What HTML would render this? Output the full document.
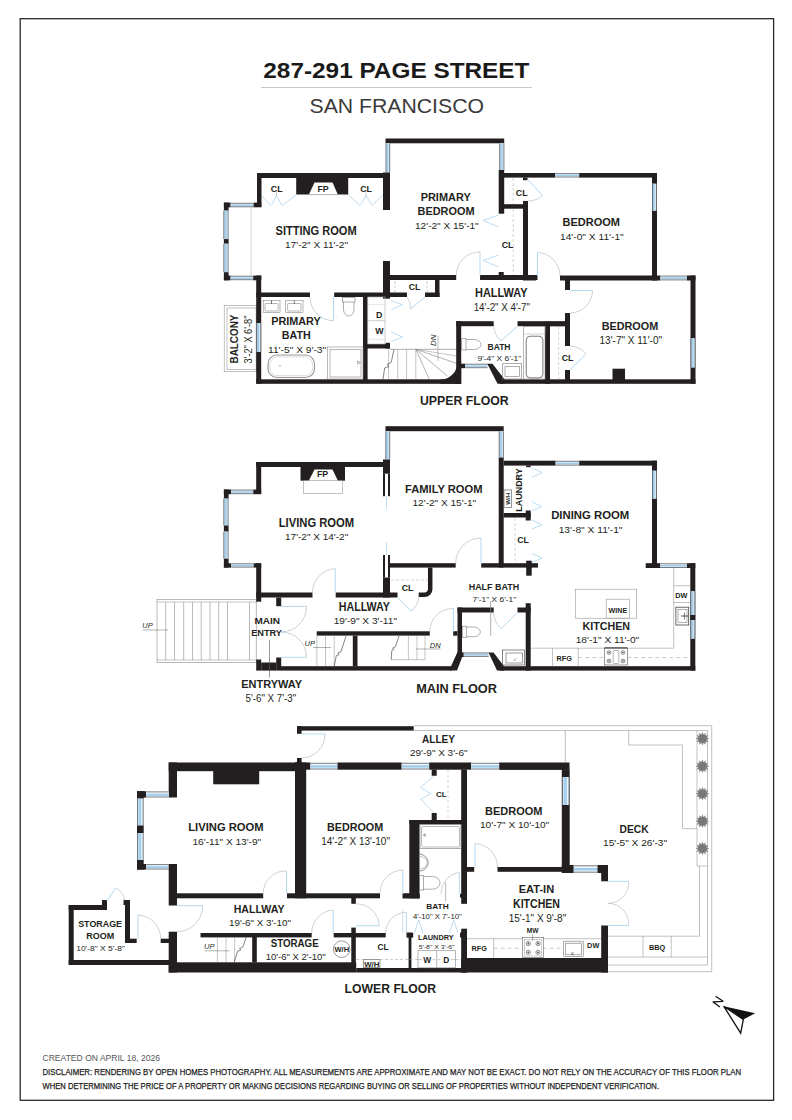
<!DOCTYPE html>
<html><head><meta charset="utf-8"><title>287-291 Page Street Floor Plan</title>
<style>
html,body{margin:0;padding:0;background:#fff;}
body{width:792px;height:1120px;overflow:hidden;font-family:"Liberation Sans",sans-serif;}
svg{display:block;font-family:"Liberation Sans",sans-serif;}
</style></head><body>
<svg width="792" height="1120" viewBox="0 0 792 1120">
<rect x="0" y="0" width="792" height="1120" fill="#ffffff"/>
<rect x="20.2" y="18.7" width="753.4" height="1081.6" fill="none" stroke="#2a2a2a" stroke-width="1.3" rx="0"/>
<text x="263.3" y="77.7" font-size="22.77" font-weight="bold" textLength="266.2" lengthAdjust="spacingAndGlyphs" fill="#1a1a1a">287-291 PAGE STREET</text>
<line x1="261.0" y1="87.5" x2="532.0" y2="87.5" stroke="#c8c8c8" stroke-width="1"/>
<text x="309.5" y="112.5" font-size="19.55" font-weight="normal" textLength="174.5" lengthAdjust="spacingAndGlyphs" fill="#3a3a3a">SAN FRANCISCO</text>
<line x1="251.0" y1="207.0" x2="251.0" y2="275.5" stroke="#b5b5b5" stroke-width="0.6"/>
<rect x="224.2" y="305.5" width="32.0" height="66.2" fill="none" stroke="#9a9a9a" stroke-width="0.6" rx="0"/>
<rect x="227.0" y="308.0" width="29.2" height="61.3" fill="none" stroke="#9a9a9a" stroke-width="0.6" rx="0"/>
<rect x="296.2" y="178.0" width="52.0" height="16.5" fill="#231f20"/>
<polygon points="314.5,182.5 332.5,182.5 338.0,195.0 308.7,195.0" fill="#fff" stroke="none" stroke-width="0"/>
<line x1="308.7" y1="194.6" x2="338.0" y2="194.6" stroke="#777" stroke-width="0.6"/>
<polyline points="261.5,195.5 271.0,205.5" fill="none" stroke="#b4d9f2" stroke-width="0.9"/>
<polyline points="271.5,205.0 276.5,195.5 281.5,205.0" fill="none" stroke="#b4d9f2" stroke-width="0.9"/>
<polyline points="282.0,205.5 296.0,195.0" fill="none" stroke="#b4d9f2" stroke-width="0.9"/>
<line x1="276.5" y1="190.0" x2="276.5" y2="196.0" stroke="#999" stroke-width="0.5"/>
<polyline points="348.5,195.0 360.0,205.5" fill="none" stroke="#b4d9f2" stroke-width="0.9"/>
<polyline points="360.5,205.0 366.0,195.5 371.5,205.0" fill="none" stroke="#b4d9f2" stroke-width="0.9"/>
<polyline points="372.0,205.5 383.0,195.0" fill="none" stroke="#b4d9f2" stroke-width="0.9"/>
<line x1="366.0" y1="190.0" x2="366.0" y2="196.0" stroke="#999" stroke-width="0.5"/>
<rect x="257.0" y="173.0" width="133.0" height="5.0" fill="#231f20"/>
<rect x="257.0" y="173.0" width="4.5" height="34.0" fill="#231f20"/>
<rect x="223.9" y="202.6" width="6.8" height="4.7" fill="#231f20"/>
<rect x="223.9" y="202.6" width="4.7" height="8.1" fill="#231f20"/>
<rect x="230.7" y="203.0" width="22.9" height="4.1" fill="#f1f8fd"/>
<rect x="230.7" y="204.5" width="22.9" height="1.5" fill="#9fcbea"/>
<line x1="230.7" y1="203.3" x2="253.6" y2="203.3" stroke="#3d454d" stroke-width="0.7"/>
<line x1="230.7" y1="206.8" x2="253.6" y2="206.8" stroke="#3d454d" stroke-width="0.7"/>
<rect x="253.6" y="202.6" width="7.7" height="4.7" fill="#231f20"/>
<rect x="223.5" y="210.7" width="4.9" height="28.4" fill="#eaf4fb"/>
<rect x="224.4" y="210.7" width="2.4" height="28.4" fill="#a6cfec"/>
<line x1="223.8" y1="210.7" x2="223.8" y2="239.1" stroke="#3d454d" stroke-width="0.7"/>
<line x1="228.1" y1="210.7" x2="228.1" y2="239.1" stroke="#3d454d" stroke-width="0.7"/>
<rect x="223.9" y="239.1" width="4.7" height="4.7" fill="#231f20"/>
<rect x="223.5" y="243.8" width="4.9" height="28.4" fill="#eaf4fb"/>
<rect x="224.4" y="243.8" width="2.4" height="28.4" fill="#a6cfec"/>
<line x1="223.8" y1="243.8" x2="223.8" y2="272.2" stroke="#3d454d" stroke-width="0.7"/>
<line x1="228.1" y1="243.8" x2="228.1" y2="272.2" stroke="#3d454d" stroke-width="0.7"/>
<rect x="223.9" y="272.2" width="4.7" height="8.1" fill="#231f20"/>
<rect x="223.9" y="275.6" width="6.8" height="4.7" fill="#231f20"/>
<rect x="230.7" y="275.9" width="22.5" height="4.1" fill="#f1f8fd"/>
<rect x="230.7" y="277.4" width="22.5" height="1.5" fill="#9fcbea"/>
<line x1="230.7" y1="276.2" x2="253.2" y2="276.2" stroke="#3d454d" stroke-width="0.7"/>
<line x1="230.7" y1="279.7" x2="253.2" y2="279.7" stroke="#3d454d" stroke-width="0.7"/>
<rect x="253.2" y="275.6" width="8.1" height="4.7" fill="#231f20"/>
<rect x="256.2" y="275.5" width="5.0" height="108.2" fill="#231f20"/>
<rect x="385.5" y="138.5" width="118.7" height="4.8" fill="#231f20"/>
<rect x="385.7" y="143.3" width="4.3" height="29.2" fill="#eaf4fb"/>
<rect x="386.5" y="143.3" width="2.1" height="29.2" fill="#a6cfec"/>
<line x1="386.0" y1="143.3" x2="386.0" y2="172.5" stroke="#3d454d" stroke-width="0.7"/>
<line x1="389.7" y1="143.3" x2="389.7" y2="172.5" stroke="#3d454d" stroke-width="0.7"/>
<rect x="383.0" y="172.5" width="7.0" height="37.5" fill="#231f20"/>
<rect x="383.0" y="261.0" width="7.0" height="37.7" fill="#231f20"/>
<rect x="499.4" y="143.3" width="4.8" height="26.7" fill="#eaf4fb"/>
<rect x="500.3" y="143.3" width="2.3" height="26.7" fill="#a6cfec"/>
<line x1="499.7" y1="143.3" x2="499.7" y2="170.0" stroke="#3d454d" stroke-width="0.7"/>
<line x1="503.9" y1="143.3" x2="503.9" y2="170.0" stroke="#3d454d" stroke-width="0.7"/>
<rect x="498.7" y="170.0" width="5.5" height="43.7" fill="#231f20"/>
<rect x="498.7" y="272.0" width="5.0" height="4.0" fill="#231f20"/>
<rect x="256.2" y="292.5" width="53.8" height="4.5" fill="#231f20"/>
<rect x="334.2" y="292.5" width="55.8" height="4.5" fill="#231f20"/>
<rect x="256.2" y="379.3" width="204.8" height="4.5" fill="#231f20"/>
<rect x="363.0" y="297.0" width="4.6" height="86.0" fill="#231f20"/>
<rect x="367.0" y="344.0" width="23.0" height="4.5" fill="#231f20"/>
<rect x="385.5" y="342.8" width="4.5" height="5.7" fill="#231f20"/>
<rect x="256.4" y="323.0" width="4.6" height="29.0" fill="#eaf4fb"/>
<rect x="257.2" y="323.0" width="2.2" height="29.0" fill="#a6cfec"/>
<line x1="256.7" y1="323.0" x2="256.7" y2="352.0" stroke="#3d454d" stroke-width="0.7"/>
<line x1="260.7" y1="323.0" x2="260.7" y2="352.0" stroke="#3d454d" stroke-width="0.7"/>
<rect x="390.0" y="275.0" width="66.2" height="5.0" fill="#231f20"/>
<rect x="480.0" y="275.0" width="57.5" height="5.0" fill="#231f20"/>
<rect x="390.0" y="292.5" width="17.0" height="4.5" fill="#231f20"/>
<rect x="425.0" y="292.5" width="14.5" height="4.5" fill="#231f20"/>
<rect x="435.0" y="280.0" width="4.5" height="17.0" fill="#231f20"/>
<line x1="395.0" y1="281.0" x2="395.0" y2="292.0" stroke="#aaa" stroke-width="0.6" stroke-dasharray="2.5 2"/>
<line x1="427.0" y1="281.0" x2="427.0" y2="292.0" stroke="#aaa" stroke-width="0.6" stroke-dasharray="2.5 2"/>
<line x1="425.0" y1="297.0" x2="410.5" y2="309.0" stroke="#b4d9f2" stroke-width="1.0"/>
<path d="M410.5,309.0 A18.8,18.8 0 0 0 407.0,297.0" fill="none" stroke="#9aa4ad" stroke-width="0.5" />
<polyline points="391.0,301.0 402.5,304.5 391.0,310.0" fill="none" stroke="#b4d9f2" stroke-width="0.9"/>
<polyline points="391.0,332.0 402.5,337.0 391.0,341.5" fill="none" stroke="#b4d9f2" stroke-width="0.9"/>
<rect x="367.8" y="297.0" width="17.2" height="47.0" fill="none" stroke="#aaa" stroke-width="0.6" rx="0"/>
<line x1="367.8" y1="320.7" x2="385.0" y2="320.7" stroke="#aaa" stroke-width="0.6"/>
<line x1="367.8" y1="304.6" x2="385.0" y2="304.6" stroke="#ccc" stroke-width="0.5"/>
<line x1="367.8" y1="339.3" x2="385.0" y2="339.3" stroke="#ccc" stroke-width="0.5"/>
<text x="379.3" y="317.7" font-size="8.80" font-weight="bold" text-anchor="middle" fill="#231f20">D</text>
<text x="379.3" y="334.4" font-size="8.80" font-weight="bold" text-anchor="middle" fill="#231f20">W</text>
<line x1="390.0" y1="349.3" x2="457.0" y2="349.3" stroke="#777" stroke-width="0.6"/>
<line x1="388.6" y1="349.3" x2="388.6" y2="379.5" stroke="#888" stroke-width="0.5"/>
<line x1="397.8" y1="349.3" x2="397.8" y2="379.5" stroke="#888" stroke-width="0.5"/>
<line x1="406.6" y1="349.3" x2="406.6" y2="379.5" stroke="#888" stroke-width="0.5"/>
<line x1="415.8" y1="349.3" x2="415.8" y2="379.5" stroke="#888" stroke-width="0.5"/>
<line x1="415.8" y1="349.3" x2="429.4" y2="379.6" stroke="#666" stroke-width="0.5"/>
<line x1="415.8" y1="349.3" x2="447.5" y2="376.1" stroke="#666" stroke-width="0.5"/>
<line x1="415.8" y1="349.3" x2="457.2" y2="363.6" stroke="#666" stroke-width="0.5"/>
<line x1="415.8" y1="349.3" x2="456.5" y2="356.0" stroke="#888" stroke-width="0.5"/>
<path d="M394,349.4 L391.2,362.4 L387,364.6 L389,366.5 L384.6,368 L383,379.5" fill="none" stroke="#333" stroke-width="0.6" />
<line x1="438.0" y1="335.8" x2="438.0" y2="360.8" stroke="#777" stroke-width="0.5"/>
<text x="433.6" y="343.2" font-size="8.00" font-weight="normal" font-style="italic" text-anchor="middle" transform="rotate(-90 433.6 340.3)" fill="#231f20">DN</text>
<rect x="456.2" y="321.2" width="37.5" height="5.0" fill="#231f20"/>
<rect x="517.5" y="321.2" width="47.5" height="5.0" fill="#231f20"/>
<rect x="456.2" y="321.2" width="5.0" height="62.6" fill="#231f20"/>
<path d="M457.6,361.5 A17.2,17.8 0 0 1 440.4,379.6 L440.4,383.8 L461.2,383.8 L461.2,361.5 Z" fill="#231f20" stroke="none" stroke-width="0" />
<rect x="461.0" y="363.7" width="4.0" height="4.5" fill="#231f20"/>
<rect x="465.0" y="363.9" width="22.5" height="4.1" fill="#f1f8fd"/>
<rect x="465.0" y="365.4" width="22.5" height="1.5" fill="#9fcbea"/>
<line x1="465.0" y1="364.2" x2="487.5" y2="364.2" stroke="#3d454d" stroke-width="0.7"/>
<line x1="465.0" y1="367.7" x2="487.5" y2="367.7" stroke="#3d454d" stroke-width="0.7"/>
<polygon points="487.3,363.7 492.5,363.7 504.5,379.3 504.5,383.8 497.5,383.8" fill="#231f20" stroke="none" stroke-width="0"/>
<rect x="500.0" y="379.3" width="195.5" height="4.5" fill="#231f20"/>
<rect x="545.0" y="326.0" width="5.0" height="57.8" fill="#231f20"/>
<rect x="523.3" y="326.5" width="21.7" height="52.5" fill="none" stroke="#888" stroke-width="0.6" rx="0"/>
<rect x="526.2" y="336.2" width="16.7" height="41.7" fill="none" stroke="#555" stroke-width="0.8" rx="4"/>
<rect x="523.3" y="326.5" width="21.7" height="7.5" fill="none" stroke="#aaa" stroke-width="0.5" rx="0"/>
<rect x="502.5" y="363.7" width="19.2" height="15.3" fill="none" stroke="#777" stroke-width="0.6" rx="0"/>
<rect x="505.0" y="366.5" width="14.5" height="10.0" fill="none" stroke="#777" stroke-width="0.6" rx="0"/>
<rect x="461.7" y="338.7" width="4.3" height="11.3" fill="none" stroke="#777" stroke-width="0.6" rx="0"/>
<path d="M466,339.5 L474,339.5 A7,5 0 0 1 474,349.5 L466,349.5" fill="none" stroke="#777" stroke-width="0.6" />
<line x1="517.5" y1="326.2" x2="501.0" y2="341.0" stroke="#b4d9f2" stroke-width="1.0"/>
<path d="M501.0,341.0 A22.2,22.2 0 0 1 493.7,326.2" fill="none" stroke="#9aa4ad" stroke-width="0.5" />
<rect x="263.2" y="300.5" width="16.8" height="12.0" fill="none" stroke="#888" stroke-width="0.6" rx="0"/>
<rect x="265.0" y="303.5" width="13.2" height="7.5" fill="none" stroke="#888" stroke-width="0.6" rx="1"/>
<rect x="285.7" y="300.5" width="17.3" height="12.0" fill="none" stroke="#888" stroke-width="0.6" rx="0"/>
<rect x="287.6" y="303.5" width="13.4" height="7.5" fill="none" stroke="#888" stroke-width="0.6" rx="1"/>
<line x1="271.5" y1="300.5" x2="271.5" y2="304.0" stroke="#555" stroke-width="0.8"/>
<line x1="294.3" y1="300.5" x2="294.3" y2="304.0" stroke="#555" stroke-width="0.8"/>
<line x1="333.5" y1="297.0" x2="333.5" y2="320.7" stroke="#b4d9f2" stroke-width="1.0"/>
<path d="M333.5,320.7 A23.7,23.7 0 0 1 310.0,297.0" fill="none" stroke="#9aa4ad" stroke-width="0.5" />
<rect x="342.5" y="297.3" width="12.5" height="4.7" fill="none" stroke="#777" stroke-width="0.6" rx="0"/>
<path d="M343.5,302 L343.5,310 A5.3,7 0 0 0 354,310 L354,302" fill="none" stroke="#777" stroke-width="0.6" />
<rect x="268.0" y="355.0" width="46.5" height="22.5" fill="none" stroke="#999" stroke-width="1.2" rx="9"/>
<rect x="269.8" y="356.8" width="42.9" height="18.9" fill="none" stroke="#bbb" stroke-width="0.5" rx="8"/>
<circle cx="280" cy="366" r="0.7" fill="#888"/>
<rect x="327.5" y="347.0" width="35.5" height="32.0" fill="none" stroke="#888" stroke-width="0.6" rx="0"/>
<rect x="330.0" y="349.3" width="31.0" height="27.7" fill="none" stroke="#888" stroke-width="0.6" rx="0"/>
<path d="M357.5,361 L360.5,362.5 L357.5,364 Z" fill="none" stroke="#666" stroke-width="0.5" />
<rect x="504.0" y="173.0" width="51.0" height="4.6" fill="#231f20"/>
<rect x="555.0" y="173.3" width="24.2" height="4.0" fill="#f1f8fd"/>
<rect x="555.0" y="174.7" width="24.2" height="1.4" fill="#9fcbea"/>
<line x1="555.0" y1="173.6" x2="579.2" y2="173.6" stroke="#3d454d" stroke-width="0.7"/>
<line x1="555.0" y1="177.0" x2="579.2" y2="177.0" stroke="#3d454d" stroke-width="0.7"/>
<rect x="579.2" y="173.0" width="77.8" height="4.6" fill="#231f20"/>
<rect x="523.0" y="177.5" width="4.5" height="2.7" fill="#231f20"/>
<rect x="504.0" y="204.2" width="23.5" height="4.5" fill="#231f20"/>
<rect x="523.0" y="201.0" width="5.0" height="75.0" fill="#231f20"/>
<line x1="513.2" y1="178.0" x2="513.2" y2="204.0" stroke="#bbb" stroke-width="0.6" stroke-dasharray="3 2"/>
<line x1="513.2" y1="209.0" x2="513.2" y2="275.0" stroke="#bbb" stroke-width="0.6" stroke-dasharray="3 2"/>
<line x1="528.0" y1="180.0" x2="542.5" y2="195.5" stroke="#b4d9f2" stroke-width="1.0"/>
<path d="M542.5,195.5 A21.2,21.2 0 0 1 528.0,201.0" fill="none" stroke="#9aa4ad" stroke-width="0.5" />
<polyline points="498.7,215.0 483.0,220.5 498.7,227.0" fill="none" stroke="#b4d9f2" stroke-width="0.9"/>
<polyline points="498.7,255.0 483.0,260.5 498.7,267.0" fill="none" stroke="#b4d9f2" stroke-width="0.9"/>
<rect x="652.0" y="173.0" width="5.0" height="107.5" fill="#231f20"/>
<rect x="652.2" y="183.7" width="4.6" height="27.0" fill="#eaf4fb"/>
<rect x="653.0" y="183.7" width="2.2" height="27.0" fill="#a6cfec"/>
<line x1="652.5" y1="183.7" x2="652.5" y2="210.7" stroke="#3d454d" stroke-width="0.7"/>
<line x1="656.5" y1="183.7" x2="656.5" y2="210.7" stroke="#3d454d" stroke-width="0.7"/>
<rect x="523.0" y="275.5" width="13.2" height="5.0" fill="#231f20"/>
<rect x="560.0" y="275.5" width="100.5" height="5.0" fill="#231f20"/>
<rect x="660.5" y="275.8" width="26.5" height="4.4" fill="#f1f8fd"/>
<rect x="660.5" y="277.4" width="26.5" height="1.6" fill="#9fcbea"/>
<line x1="660.5" y1="276.1" x2="687.0" y2="276.1" stroke="#3d454d" stroke-width="0.7"/>
<line x1="660.5" y1="279.9" x2="687.0" y2="279.9" stroke="#3d454d" stroke-width="0.7"/>
<rect x="687.0" y="275.5" width="8.5" height="5.0" fill="#231f20"/>
<line x1="537.5" y1="276.0" x2="537.5" y2="252.5" stroke="#b4d9f2" stroke-width="1.0"/>
<path d="M537.5,252.5 A23.5,23.5 0 0 1 560.0,276.0" fill="none" stroke="#9aa4ad" stroke-width="0.5" />
<line x1="480.0" y1="275.5" x2="480.0" y2="252.0" stroke="#b4d9f2" stroke-width="1.0"/>
<path d="M480.0,252.0 A23.5,23.5 0 0 0 456.2,275.5" fill="none" stroke="#9aa4ad" stroke-width="0.5" />
<rect x="690.5" y="275.5" width="5.0" height="108.3" fill="#231f20"/>
<rect x="690.7" y="338.2" width="4.6" height="29.3" fill="#eaf4fb"/>
<rect x="691.5" y="338.2" width="2.2" height="29.3" fill="#a6cfec"/>
<line x1="691.0" y1="338.2" x2="691.0" y2="367.5" stroke="#3d454d" stroke-width="0.7"/>
<line x1="695.0" y1="338.2" x2="695.0" y2="367.5" stroke="#3d454d" stroke-width="0.7"/>
<rect x="565.0" y="280.0" width="5.0" height="10.0" fill="#231f20"/>
<rect x="565.0" y="313.0" width="5.0" height="33.0" fill="#231f20"/>
<rect x="565.0" y="370.0" width="5.0" height="10.0" fill="#231f20"/>
<line x1="570.0" y1="290.5" x2="592.5" y2="290.5" stroke="#b4d9f2" stroke-width="1.0"/>
<path d="M592.5,290.5 A22.5,22.5 0 0 1 570.0,313.0" fill="none" stroke="#9aa4ad" stroke-width="0.5" />
<line x1="570.0" y1="370.0" x2="586.0" y2="353.7" stroke="#b4d9f2" stroke-width="1.0"/>
<path d="M586.0,353.7 A22.8,22.8 0 0 0 570.0,346.0" fill="none" stroke="#9aa4ad" stroke-width="0.5" />
<rect x="545.0" y="321.7" width="25.0" height="4.5" fill="#231f20"/>
<line x1="558.7" y1="327.0" x2="558.7" y2="379.0" stroke="#bbb" stroke-width="0.6" stroke-dasharray="3 2"/>
<rect x="612.5" y="368.7" width="12.5" height="11.3" fill="#231f20"/>
<text x="276.7" y="192.2" font-size="8.80" font-weight="bold" text-anchor="middle" fill="#231f20">CL</text>
<text x="323.0" y="192.2" font-size="8.80" font-weight="bold" text-anchor="middle" fill="#231f20">FP</text>
<text x="366.0" y="192.2" font-size="8.80" font-weight="bold" text-anchor="middle" fill="#231f20">CL</text>
<text x="275.5" y="234.5" font-size="11.87" font-weight="bold" textLength="81.2" lengthAdjust="spacingAndGlyphs" fill="#231f20">SITTING ROOM</text>
<text x="285.0" y="248.0" font-size="9.78" font-weight="normal" textLength="63.0" lengthAdjust="spacingAndGlyphs" fill="#231f20">17'-2" X 11'-2"</text>
<text x="271.2" y="325.2" font-size="11.45" font-weight="bold" textLength="49.5" lengthAdjust="spacingAndGlyphs" fill="#231f20">PRIMARY</text>
<text x="281.7" y="339.4" font-size="11.45" font-weight="bold" textLength="29.0" lengthAdjust="spacingAndGlyphs" fill="#231f20">BATH</text>
<text x="268.0" y="353.0" font-size="9.50" font-weight="normal" textLength="58.2" lengthAdjust="spacingAndGlyphs" fill="#231f20">11'-5" X 9'-3"</text>
<text x="234.4" y="343.1" font-size="11.50" font-weight="bold" text-anchor="middle" textLength="49.0" lengthAdjust="spacingAndGlyphs" transform="rotate(-90 234.4 339.0)" fill="#231f20">BALCONY</text>
<text x="248.7" y="343.1" font-size="10.00" font-weight="normal" text-anchor="middle" textLength="48.0" lengthAdjust="spacingAndGlyphs" transform="rotate(-90 248.7 339.5)" fill="#231f20">3'-2" X 6'-8"</text>
<text x="420.7" y="200.7" font-size="11.45" font-weight="bold" textLength="50.0" lengthAdjust="spacingAndGlyphs" fill="#231f20">PRIMARY</text>
<text x="417.5" y="215.0" font-size="11.59" font-weight="bold" textLength="57.0" lengthAdjust="spacingAndGlyphs" fill="#231f20">BEDROOM</text>
<text x="415.0" y="228.7" font-size="9.78" font-weight="normal" textLength="63.7" lengthAdjust="spacingAndGlyphs" fill="#231f20">12'-2" X 15'-1"</text>
<text x="521.7" y="195.7" font-size="8.80" font-weight="bold" text-anchor="middle" fill="#231f20">CL</text>
<text x="507.5" y="248.2" font-size="8.80" font-weight="bold" text-anchor="middle" fill="#231f20">CL</text>
<text x="414.5" y="289.7" font-size="8.80" font-weight="bold" text-anchor="middle" fill="#231f20">CL</text>
<text x="475.0" y="296.7" font-size="11.87" font-weight="bold" textLength="52.5" lengthAdjust="spacingAndGlyphs" fill="#231f20">HALLWAY</text>
<text x="473.7" y="310.5" font-size="10.20" font-weight="normal" textLength="56.3" lengthAdjust="spacingAndGlyphs" fill="#231f20">14'-2" X 4'-7"</text>
<text x="487.5" y="350.0" font-size="8.80" font-weight="bold" textLength="23.0" lengthAdjust="spacingAndGlyphs" fill="#231f20">BATH</text>
<text x="477.5" y="361.2" font-size="6.98" font-weight="normal" textLength="43.7" lengthAdjust="spacingAndGlyphs" fill="#231f20">9'-4" X 6'-1"</text>
<text x="562.5" y="225.9" font-size="11.03" font-weight="bold" textLength="57.5" lengthAdjust="spacingAndGlyphs" fill="#231f20">BEDROOM</text>
<text x="560.0" y="239.5" font-size="9.78" font-weight="normal" textLength="63.7" lengthAdjust="spacingAndGlyphs" fill="#231f20">14'-0" X 11'-1"</text>
<text x="601.7" y="330.0" font-size="11.59" font-weight="bold" textLength="56.5" lengthAdjust="spacingAndGlyphs" fill="#231f20">BEDROOM</text>
<text x="599.5" y="343.7" font-size="10.47" font-weight="normal" textLength="62.5" lengthAdjust="spacingAndGlyphs" fill="#231f20">13'-7" X 11'-0"</text>
<text x="567.5" y="361.2" font-size="8.80" font-weight="bold" text-anchor="middle" fill="#231f20">CL</text>
<text x="420.0" y="405.0" font-size="12.29" font-weight="bold" textLength="88.7" lengthAdjust="spacingAndGlyphs" fill="#231f20">UPPER FLOOR</text>
<rect x="157.0" y="599.5" width="99.2" height="63.0" fill="none" stroke="#8a8a8a" stroke-width="0.6" rx="0"/>
<line x1="157.0" y1="602.0" x2="256.2" y2="602.0" stroke="#8a8a8a" stroke-width="0.5"/>
<line x1="157.0" y1="660.0" x2="256.2" y2="660.0" stroke="#8a8a8a" stroke-width="0.5"/>
<line x1="165.7" y1="602.0" x2="165.7" y2="660.0" stroke="#777" stroke-width="0.5"/>
<line x1="174.5" y1="602.0" x2="174.5" y2="660.0" stroke="#777" stroke-width="0.5"/>
<line x1="183.7" y1="602.0" x2="183.7" y2="660.0" stroke="#777" stroke-width="0.5"/>
<line x1="192.5" y1="602.0" x2="192.5" y2="660.0" stroke="#777" stroke-width="0.5"/>
<line x1="201.2" y1="602.0" x2="201.2" y2="660.0" stroke="#777" stroke-width="0.5"/>
<line x1="210.0" y1="602.0" x2="210.0" y2="660.0" stroke="#777" stroke-width="0.5"/>
<line x1="218.7" y1="602.0" x2="218.7" y2="660.0" stroke="#777" stroke-width="0.5"/>
<line x1="227.5" y1="602.0" x2="227.5" y2="660.0" stroke="#777" stroke-width="0.5"/>
<line x1="249.5" y1="602.0" x2="249.5" y2="660.0" stroke="#777" stroke-width="0.5"/>
<line x1="142.5" y1="630.0" x2="168.0" y2="630.0" stroke="#666" stroke-width="0.5"/>
<text x="147.5" y="628.4" font-size="7.50" font-weight="normal" font-style="italic" text-anchor="middle" fill="#231f20">UP</text>
<rect x="300.5" y="467.0" width="44.5" height="13.7" fill="#231f20"/>
<polygon points="314.5,469.5 332.5,469.5 338.0,481.0 308.7,481.0" fill="#fff" stroke="none" stroke-width="0"/>
<rect x="303.7" y="480.7" width="38.8" height="13.0" fill="none" stroke="#999" stroke-width="0.6" rx="0"/>
<rect x="256.2" y="462.0" width="133.8" height="5.0" fill="#231f20"/>
<rect x="256.2" y="462.0" width="5.0" height="32.0" fill="#231f20"/>
<rect x="223.9" y="489.5" width="7.1" height="4.7" fill="#231f20"/>
<rect x="223.9" y="489.5" width="4.7" height="9.2" fill="#231f20"/>
<rect x="231.0" y="489.8" width="22.3" height="4.2" fill="#f1f8fd"/>
<rect x="231.0" y="491.3" width="22.3" height="1.5" fill="#9fcbea"/>
<line x1="231.0" y1="490.1" x2="253.3" y2="490.1" stroke="#3d454d" stroke-width="0.7"/>
<line x1="231.0" y1="493.7" x2="253.3" y2="493.7" stroke="#3d454d" stroke-width="0.7"/>
<rect x="253.3" y="489.5" width="7.9" height="4.7" fill="#231f20"/>
<rect x="223.5" y="498.7" width="4.9" height="26.8" fill="#eaf4fb"/>
<rect x="224.4" y="498.7" width="2.4" height="26.8" fill="#a6cfec"/>
<line x1="223.8" y1="498.7" x2="223.8" y2="525.5" stroke="#3d454d" stroke-width="0.7"/>
<line x1="228.1" y1="498.7" x2="228.1" y2="525.5" stroke="#3d454d" stroke-width="0.7"/>
<rect x="223.9" y="525.5" width="4.7" height="6.2" fill="#231f20"/>
<rect x="223.5" y="531.7" width="4.9" height="27.0" fill="#eaf4fb"/>
<rect x="224.4" y="531.7" width="2.4" height="27.0" fill="#a6cfec"/>
<line x1="223.8" y1="531.7" x2="223.8" y2="558.7" stroke="#3d454d" stroke-width="0.7"/>
<line x1="228.1" y1="531.7" x2="228.1" y2="558.7" stroke="#3d454d" stroke-width="0.7"/>
<rect x="223.9" y="558.7" width="4.7" height="8.9" fill="#231f20"/>
<rect x="223.9" y="563.3" width="7.1" height="4.3" fill="#231f20"/>
<rect x="231.0" y="563.5" width="22.7" height="3.9" fill="#f1f8fd"/>
<rect x="231.0" y="564.9" width="22.7" height="1.4" fill="#9fcbea"/>
<line x1="231.0" y1="563.8" x2="253.7" y2="563.8" stroke="#3d454d" stroke-width="0.7"/>
<line x1="231.0" y1="567.1" x2="253.7" y2="567.1" stroke="#3d454d" stroke-width="0.7"/>
<rect x="253.7" y="563.3" width="7.5" height="4.3" fill="#231f20"/>
<rect x="256.2" y="563.3" width="5.0" height="38.4" fill="#231f20"/>
<rect x="256.2" y="592.5" width="56.3" height="5.0" fill="#231f20"/>
<rect x="335.7" y="592.5" width="61.8" height="5.0" fill="#231f20"/>
<rect x="276.2" y="597.5" width="5.0" height="8.7" fill="#231f20"/>
<rect x="256.2" y="659.5" width="5.0" height="11.1" fill="#231f20"/>
<rect x="261.2" y="662.5" width="15.0" height="8.1" fill="#231f20"/>
<rect x="276.2" y="657.5" width="5.0" height="13.1" fill="#231f20"/>
<rect x="281.0" y="666.2" width="170.5" height="4.4" fill="#231f20"/>
<line x1="281.2" y1="606.4" x2="306.5" y2="606.4" stroke="#b4d9f2" stroke-width="1.0"/>
<path d="M306.5,606.4 A25.3,25.3 0 0 1 281.5,632.0" fill="none" stroke="#9aa4ad" stroke-width="0.5" />
<line x1="281.2" y1="657.3" x2="306.5" y2="657.3" stroke="#b4d9f2" stroke-width="1.0"/>
<path d="M306.5,657.3 A25.3,25.3 0 0 0 281.5,632.0" fill="none" stroke="#9aa4ad" stroke-width="0.5" />
<line x1="335.3" y1="592.5" x2="335.3" y2="568.7" stroke="#b4d9f2" stroke-width="1.0"/>
<path d="M335.3,568.7 A23.8,23.8 0 0 0 312.5,592.5" fill="none" stroke="#9aa4ad" stroke-width="0.5" />
<line x1="269.5" y1="640.0" x2="269.5" y2="677.5" stroke="#555" stroke-width="0.6"/>
<rect x="385.5" y="426.2" width="118.2" height="5.0" fill="#231f20"/>
<rect x="385.5" y="431.2" width="4.5" height="28.3" fill="#eaf4fb"/>
<rect x="386.3" y="431.2" width="2.2" height="28.3" fill="#a6cfec"/>
<line x1="385.8" y1="431.2" x2="385.8" y2="459.5" stroke="#3d454d" stroke-width="0.7"/>
<line x1="389.7" y1="431.2" x2="389.7" y2="459.5" stroke="#3d454d" stroke-width="0.7"/>
<rect x="383.0" y="459.5" width="7.0" height="14.2" fill="#231f20"/>
<rect x="383.0" y="473.7" width="2.0" height="22.5" fill="#231f20"/>
<rect x="388.0" y="473.7" width="2.0" height="22.5" fill="#231f20"/>
<line x1="386.5" y1="496.2" x2="386.5" y2="508.7" stroke="#b4d9f2" stroke-width="0.9"/>
<line x1="386.5" y1="542.5" x2="386.5" y2="555.0" stroke="#b4d9f2" stroke-width="0.9"/>
<rect x="383.0" y="555.0" width="2.0" height="22.5" fill="#231f20"/>
<rect x="388.0" y="555.0" width="2.0" height="22.5" fill="#231f20"/>
<rect x="383.0" y="577.5" width="7.0" height="20.0" fill="#231f20"/>
<rect x="498.9" y="431.2" width="4.8" height="26.3" fill="#eaf4fb"/>
<rect x="499.8" y="431.2" width="2.3" height="26.3" fill="#a6cfec"/>
<line x1="499.2" y1="431.2" x2="499.2" y2="457.5" stroke="#3d454d" stroke-width="0.7"/>
<line x1="503.4" y1="431.2" x2="503.4" y2="457.5" stroke="#3d454d" stroke-width="0.7"/>
<rect x="498.7" y="457.5" width="5.0" height="110.0" fill="#231f20"/>
<rect x="503.7" y="460.7" width="52.0" height="4.9" fill="#231f20"/>
<rect x="555.7" y="461.0" width="23.5" height="4.4" fill="#f1f8fd"/>
<rect x="555.7" y="462.6" width="23.5" height="1.6" fill="#9fcbea"/>
<line x1="555.7" y1="461.3" x2="579.2" y2="461.3" stroke="#3d454d" stroke-width="0.7"/>
<line x1="555.7" y1="465.1" x2="579.2" y2="465.1" stroke="#3d454d" stroke-width="0.7"/>
<rect x="579.2" y="460.7" width="77.8" height="4.9" fill="#231f20"/>
<rect x="526.2" y="465.5" width="4.5" height="1.7" fill="#231f20"/>
<rect x="652.0" y="460.7" width="5.0" height="107.3" fill="#231f20"/>
<rect x="652.2" y="470.7" width="4.6" height="28.0" fill="#eaf4fb"/>
<rect x="653.0" y="470.7" width="2.2" height="28.0" fill="#a6cfec"/>
<line x1="652.5" y1="470.7" x2="652.5" y2="498.7" stroke="#3d454d" stroke-width="0.7"/>
<line x1="656.5" y1="470.7" x2="656.5" y2="498.7" stroke="#3d454d" stroke-width="0.7"/>
<rect x="645.7" y="563.2" width="14.3" height="4.8" fill="#231f20"/>
<rect x="660.0" y="563.5" width="27.0" height="4.3" fill="#f1f8fd"/>
<rect x="660.0" y="565.0" width="27.0" height="1.5" fill="#9fcbea"/>
<line x1="660.0" y1="563.8" x2="687.0" y2="563.8" stroke="#3d454d" stroke-width="0.7"/>
<line x1="660.0" y1="567.5" x2="687.0" y2="567.5" stroke="#3d454d" stroke-width="0.7"/>
<rect x="687.0" y="563.2" width="8.3" height="4.8" fill="#231f20"/>
<rect x="690.3" y="563.2" width="5.0" height="107.4" fill="#231f20"/>
<rect x="690.5" y="591.2" width="4.6" height="23.8" fill="#eaf4fb"/>
<rect x="691.3" y="591.2" width="2.2" height="23.8" fill="#a6cfec"/>
<line x1="690.8" y1="591.2" x2="690.8" y2="615.0" stroke="#3d454d" stroke-width="0.7"/>
<line x1="694.8" y1="591.2" x2="694.8" y2="615.0" stroke="#3d454d" stroke-width="0.7"/>
<rect x="690.3" y="615.0" width="5.0" height="5.0" fill="#231f20"/>
<rect x="690.5" y="620.0" width="4.6" height="18.7" fill="#eaf4fb"/>
<rect x="691.3" y="620.0" width="2.2" height="18.7" fill="#a6cfec"/>
<line x1="690.8" y1="620.0" x2="690.8" y2="638.7" stroke="#3d454d" stroke-width="0.7"/>
<line x1="694.8" y1="620.0" x2="694.8" y2="638.7" stroke="#3d454d" stroke-width="0.7"/>
<rect x="499.5" y="666.2" width="195.8" height="4.4" fill="#231f20"/>
<rect x="503.7" y="513.0" width="27.0" height="4.5" fill="#231f20"/>
<rect x="525.7" y="510.5" width="5.0" height="10.0" fill="#231f20"/>
<rect x="504.0" y="490.0" width="7.7" height="17.5" fill="none" stroke="#555" stroke-width="0.6" rx="0"/>
<text x="508.0" y="500.8" font-size="5.60" font-weight="bold" text-anchor="middle" textLength="12.0" lengthAdjust="spacingAndGlyphs" transform="rotate(-90 508.0 498.8)" fill="#231f20">W/H</text>
<text x="519.3" y="493.1" font-size="8.60" font-weight="bold" text-anchor="middle" textLength="43.5" lengthAdjust="spacingAndGlyphs" transform="rotate(-90 519.3 490.0)" fill="#231f20">LAUNDRY</text>
<line x1="515.0" y1="518.0" x2="515.0" y2="563.0" stroke="#bbb" stroke-width="0.6" stroke-dasharray="3 2"/>
<text x="523.0" y="543.2" font-size="8.80" font-weight="bold" text-anchor="middle" fill="#231f20">CL</text>
<polyline points="532.0,468.0 542.0,472.5 532.0,477.5" fill="none" stroke="#b4d9f2" stroke-width="0.9"/>
<polyline points="532.0,502.0 542.0,506.5 532.0,511.0" fill="none" stroke="#b4d9f2" stroke-width="0.9"/>
<polyline points="532.0,520.0 542.0,524.8 532.0,529.0" fill="none" stroke="#b4d9f2" stroke-width="0.9"/>
<polyline points="532.0,553.5 542.0,558.0 532.0,562.5" fill="none" stroke="#b4d9f2" stroke-width="0.9"/>
<rect x="390.0" y="563.2" width="65.7" height="4.4" fill="#231f20"/>
<rect x="481.2" y="563.2" width="56.8" height="4.4" fill="#231f20"/>
<rect x="526.2" y="560.7" width="5.5" height="15.0" fill="#231f20"/>
<line x1="481.0" y1="563.2" x2="481.0" y2="538.0" stroke="#b4d9f2" stroke-width="1.0"/>
<path d="M481.0,538.0 A25.2,25.2 0 0 0 455.7,563.2" fill="none" stroke="#9aa4ad" stroke-width="0.5" />
<path d="M430.2,567.6 L430.2,589 A5.7,5.7 0 0 1 424.5,594.8 L418.7,594.8" fill="none" stroke="#231f20" stroke-width="4.5" />
<line x1="391.0" y1="580.0" x2="427.5" y2="580.0" stroke="#bbb" stroke-width="0.6" stroke-dasharray="3 2"/>
<text x="407.5" y="590.7" font-size="8.80" font-weight="bold" text-anchor="middle" fill="#231f20">CL</text>
<line x1="397.7" y1="597.3" x2="411.0" y2="611.0" stroke="#b4d9f2" stroke-width="1.0"/>
<path d="M411.0,611.0 A19.1,19.1 0 0 0 418.7,597.3" fill="none" stroke="#9aa4ad" stroke-width="0.5" />
<rect x="457.5" y="607.5" width="36.2" height="5.0" fill="#231f20"/>
<rect x="517.5" y="607.5" width="13.2" height="5.0" fill="#231f20"/>
<rect x="457.5" y="607.5" width="4.5" height="45.5" fill="#231f20"/>
<rect x="453.2" y="631.2" width="4.3" height="4.5" fill="#231f20"/>
<rect x="525.7" y="603.2" width="5.0" height="67.4" fill="#231f20"/>
<line x1="490.7" y1="601.0" x2="490.7" y2="635.7" stroke="#8a8a8a" stroke-width="0.7"/>
<line x1="517.5" y1="612.5" x2="501.2" y2="628.7" stroke="#b4d9f2" stroke-width="1.0"/>
<path d="M501.2,628.7 A23.0,23.0 0 0 1 493.7,612.5" fill="none" stroke="#9aa4ad" stroke-width="0.5" />
<rect x="462.3" y="626.2" width="3.9" height="11.3" fill="none" stroke="#777" stroke-width="0.6" rx="0"/>
<path d="M466.2,627 L473.5,627 A6.8,4.8 0 0 1 473.5,636.7 L466.2,636.7" fill="none" stroke="#777" stroke-width="0.6" />
<rect x="462.0" y="652.5" width="2.0" height="4.5" fill="#231f20"/>
<rect x="463.7" y="652.7" width="25.0" height="4.0" fill="#f1f8fd"/>
<rect x="463.7" y="654.1" width="25.0" height="1.4" fill="#9fcbea"/>
<line x1="463.7" y1="653.0" x2="488.7" y2="653.0" stroke="#3d454d" stroke-width="0.7"/>
<line x1="463.7" y1="656.4" x2="488.7" y2="656.4" stroke="#3d454d" stroke-width="0.7"/>
<polygon points="457.5,652.0 462.2,652.0 462.2,657.0 457.0,670.6 449.5,670.6 451.0,666.2" fill="#231f20" stroke="none" stroke-width="0"/>
<polygon points="488.5,652.5 493.5,652.5 504.0,666.2 504.0,670.6 497.0,670.6" fill="#231f20" stroke="none" stroke-width="0"/>
<rect x="502.5" y="650.0" width="22.0" height="15.0" fill="none" stroke="#555" stroke-width="0.7" rx="0"/>
<rect x="506.0" y="653.0" width="16.5" height="10.0" fill="none" stroke="#555" stroke-width="0.6" rx="0"/>
<line x1="514.0" y1="661.0" x2="516.0" y2="658.5" stroke="#555" stroke-width="0.6"/>
<rect x="316.7" y="631.3" width="113.1" height="4.3" fill="#231f20"/>
<rect x="352.8" y="635.6" width="4.7" height="30.9" fill="#231f20"/>
<line x1="316.9" y1="635.6" x2="316.9" y2="666.2" stroke="#888" stroke-width="0.5"/>
<line x1="325.5" y1="635.6" x2="325.5" y2="666.2" stroke="#888" stroke-width="0.5"/>
<line x1="334.2" y1="635.6" x2="334.2" y2="666.2" stroke="#888" stroke-width="0.5"/>
<path d="M346,636 L340.8,652 L337.8,653 L339.2,654.6 L336.3,655.6 L334.3,666" fill="none" stroke="#333" stroke-width="0.6" />
<line x1="313.0" y1="647.5" x2="331.0" y2="647.5" stroke="#666" stroke-width="0.5"/>
<text x="309.8" y="645.7" font-size="7.50" font-weight="normal" font-style="italic" text-anchor="middle" fill="#231f20">UP</text>
<line x1="408.4" y1="635.6" x2="408.4" y2="659.7" stroke="#888" stroke-width="0.5"/>
<line x1="417.0" y1="635.6" x2="417.0" y2="659.7" stroke="#888" stroke-width="0.5"/>
<line x1="425.0" y1="635.6" x2="425.0" y2="659.7" stroke="#888" stroke-width="0.5"/>
<line x1="391.0" y1="659.7" x2="425.0" y2="659.7" stroke="#888" stroke-width="0.5"/>
<path d="M399,636 L395.5,646.8 L392.6,648 L394,649.5 L391.8,650.5 L391.2,659.7" fill="none" stroke="#333" stroke-width="0.6" />
<line x1="415.9" y1="649.0" x2="440.5" y2="649.0" stroke="#666" stroke-width="0.5"/>
<text x="435.2" y="647.9" font-size="7.50" font-weight="normal" font-style="italic" text-anchor="middle" fill="#231f20">DN</text>
<line x1="453.4" y1="631.5" x2="453.4" y2="608.5" stroke="#b4d9f2" stroke-width="1.0"/>
<path d="M453.4,608.5 A23.0,23.0 0 0 0 429.8,631.5" fill="none" stroke="#9aa4ad" stroke-width="0.5" />
<line x1="673.7" y1="568.0" x2="673.7" y2="648.2" stroke="#999" stroke-width="0.6"/>
<line x1="530.7" y1="648.2" x2="673.7" y2="648.2" stroke="#999" stroke-width="0.6"/>
<line x1="673.7" y1="585.7" x2="690.3" y2="585.7" stroke="#999" stroke-width="0.6"/>
<line x1="673.7" y1="602.5" x2="690.3" y2="602.5" stroke="#999" stroke-width="0.6"/>
<text x="681.3" y="597.6" font-size="7.30" font-weight="bold" text-anchor="middle" fill="#231f20">DW</text>
<rect x="675.9" y="607.2" width="12.8" height="17.8" fill="none" stroke="#444" stroke-width="0.8" rx="0"/>
<rect x="678.0" y="609.5" width="9.0" height="13.0" fill="none" stroke="#666" stroke-width="0.5" rx="0"/>
<line x1="681.0" y1="616.0" x2="688.5" y2="616.0" stroke="#444" stroke-width="0.9"/>
<line x1="684.5" y1="612.5" x2="684.5" y2="619.5" stroke="#444" stroke-width="0.7"/>
<rect x="575.5" y="589.2" width="61.2" height="29.0" fill="none" stroke="#999" stroke-width="0.6" rx="0"/>
<rect x="606.2" y="599.2" width="23.3" height="19.0" fill="none" stroke="#999" stroke-width="0.6" rx="0"/>
<text x="617.8" y="612.6" font-size="7.20" font-weight="bold" text-anchor="middle" fill="#231f20">WINE</text>
<line x1="552.5" y1="648.2" x2="552.5" y2="666.2" stroke="#999" stroke-width="0.6"/>
<line x1="578.2" y1="648.2" x2="578.2" y2="666.2" stroke="#999" stroke-width="0.6"/>
<text x="564.2" y="660.8" font-size="7.30" font-weight="bold" text-anchor="middle" fill="#231f20">RFG</text>
<line x1="578.2" y1="657.5" x2="688.0" y2="657.5" stroke="#aaa" stroke-width="0.6" stroke-dasharray="4 3"/>
<rect x="604.5" y="648.2" width="23.0" height="16.8" fill="#fff" stroke="#555" stroke-width="0.6" rx="0"/>
<line x1="604.5" y1="647.8" x2="627.5" y2="647.8" stroke="#333" stroke-width="0.9"/>
<rect x="613.2" y="650.5" width="5.6" height="13.0" fill="none" stroke="#666" stroke-width="0.5" rx="1.2"/>
<circle cx="609" cy="652.5" r="1.9" fill="none" stroke="#444" stroke-width="0.6"/><circle cx="609" cy="652.5" r="0.8" fill="#444"/>
<circle cx="623" cy="652.5" r="1.9" fill="none" stroke="#444" stroke-width="0.6"/><circle cx="623" cy="652.5" r="0.8" fill="#444"/>
<circle cx="609" cy="661" r="1.9" fill="none" stroke="#444" stroke-width="0.6"/><circle cx="609" cy="661" r="0.8" fill="#444"/>
<circle cx="623" cy="661" r="1.9" fill="none" stroke="#444" stroke-width="0.6"/><circle cx="623" cy="661" r="0.8" fill="#444"/>
<text x="322.5" y="477.2" font-size="8.80" font-weight="bold" text-anchor="middle" fill="#231f20">FP</text>
<text x="278.7" y="526.7" font-size="11.87" font-weight="bold" textLength="75.5" lengthAdjust="spacingAndGlyphs" fill="#231f20">LIVING ROOM</text>
<text x="285.0" y="539.5" font-size="9.78" font-weight="normal" textLength="63.2" lengthAdjust="spacingAndGlyphs" fill="#231f20">17'-2" X 14'-2"</text>
<text x="254.5" y="623.9" font-size="9.64" font-weight="bold" textLength="25.5" lengthAdjust="spacingAndGlyphs" fill="#231f20">MAIN</text>
<text x="251.2" y="636.2" font-size="9.78" font-weight="bold" textLength="30.8" lengthAdjust="spacingAndGlyphs" fill="#231f20">ENTRY</text>
<text x="338.7" y="610.5" font-size="11.87" font-weight="bold" textLength="51.3" lengthAdjust="spacingAndGlyphs" fill="#231f20">HALLWAY</text>
<text x="333.7" y="623.7" font-size="9.78" font-weight="normal" textLength="63.3" lengthAdjust="spacingAndGlyphs" fill="#231f20">19'-9" X 3'-11"</text>
<text x="241.2" y="688.2" font-size="11.45" font-weight="bold" textLength="60.8" lengthAdjust="spacingAndGlyphs" fill="#231f20">ENTRYWAY</text>
<text x="245.5" y="701.7" font-size="10.47" font-weight="normal" textLength="50.7" lengthAdjust="spacingAndGlyphs" fill="#231f20">5'-6" X 7'-3"</text>
<text x="405.0" y="492.5" font-size="11.59" font-weight="bold" textLength="77.5" lengthAdjust="spacingAndGlyphs" fill="#231f20">FAMILY ROOM</text>
<text x="412.5" y="505.7" font-size="9.78" font-weight="normal" textLength="63.7" lengthAdjust="spacingAndGlyphs" fill="#231f20">12'-2" X 15'-1"</text>
<text x="551.2" y="518.9" font-size="11.45" font-weight="bold" textLength="78.0" lengthAdjust="spacingAndGlyphs" fill="#231f20">DINING ROOM</text>
<text x="558.7" y="532.5" font-size="9.50" font-weight="normal" textLength="63.8" lengthAdjust="spacingAndGlyphs" fill="#231f20">13'-8" X 11'-1"</text>
<text x="468.7" y="590.2" font-size="9.08" font-weight="bold" textLength="50.5" lengthAdjust="spacingAndGlyphs" fill="#231f20">HALF BATH</text>
<text x="472.5" y="601.7" font-size="7.68" font-weight="normal" textLength="43.7" lengthAdjust="spacingAndGlyphs" fill="#231f20">7'-1" X 6'-1"</text>
<text x="582.5" y="630.2" font-size="11.45" font-weight="bold" textLength="47.5" lengthAdjust="spacingAndGlyphs" fill="#231f20">KITCHEN</text>
<text x="575.7" y="643.2" font-size="9.78" font-weight="normal" textLength="63.5" lengthAdjust="spacingAndGlyphs" fill="#231f20">18'-1" X 11'-0"</text>
<text x="416.2" y="693.0" font-size="12.57" font-weight="bold" textLength="80.8" lengthAdjust="spacingAndGlyphs" fill="#231f20">MAIN FLOOR</text>
<line x1="413.7" y1="725.7" x2="711.7" y2="725.7" stroke="#999" stroke-width="0.6"/>
<line x1="711.7" y1="725.7" x2="711.7" y2="971.7" stroke="#999" stroke-width="0.6"/>
<line x1="413.7" y1="730.5" x2="707.5" y2="730.5" stroke="#999" stroke-width="0.6"/>
<line x1="707.5" y1="730.5" x2="707.5" y2="965.0" stroke="#999" stroke-width="0.6"/>
<line x1="565.3" y1="730.5" x2="565.3" y2="762.5" stroke="#999" stroke-width="0.6"/>
<path d="M628.7,730.5 L628.7,745 L682.5,745 L682.5,828.7 L697,828.7" fill="none" stroke="#999" stroke-width="0.6" />
<line x1="697.0" y1="730.5" x2="697.0" y2="866.0" stroke="#999" stroke-width="0.6"/>
<line x1="697.0" y1="866.0" x2="707.5" y2="866.0" stroke="#999" stroke-width="0.6"/>
<line x1="699.5" y1="866.0" x2="699.5" y2="936.2" stroke="#999" stroke-width="0.6"/>
<line x1="608.0" y1="936.2" x2="699.5" y2="936.2" stroke="#999" stroke-width="0.6"/>
<line x1="608.0" y1="957.0" x2="707.5" y2="957.0" stroke="#999" stroke-width="0.6"/>
<line x1="608.0" y1="965.0" x2="707.5" y2="965.0" stroke="#999" stroke-width="0.6"/>
<line x1="608.0" y1="971.7" x2="711.7" y2="971.7" stroke="#999" stroke-width="0.6"/>
<line x1="643.0" y1="936.2" x2="643.0" y2="957.0" stroke="#999" stroke-width="0.6"/>
<line x1="671.2" y1="936.2" x2="671.2" y2="957.0" stroke="#999" stroke-width="0.6"/>
<text x="657.0" y="949.6" font-size="7.30" font-weight="bold" text-anchor="middle" fill="#231f20">BBQ</text>
<polygon points="709.3,738.7 706.7,739.8 708.4,742.2 705.5,741.8 705.9,744.7 703.5,743.0 702.4,745.6 701.3,743.0 698.9,744.7 699.3,741.8 696.4,742.2 698.1,739.8 695.5,738.7 698.1,737.6 696.4,735.2 699.3,735.6 698.9,732.7 701.3,734.4 702.4,731.8 703.5,734.4 705.9,732.7 705.5,735.6 708.4,735.2 706.7,737.6" fill="#8c8c8c" stroke="none" stroke-width="0"/>
<circle cx="702.4" cy="738.7" r="4.2" fill="#787878"/>
<polygon points="709.3,766.2 706.7,767.3 708.4,769.7 705.5,769.3 705.9,772.2 703.5,770.5 702.4,773.1 701.3,770.5 698.9,772.2 699.3,769.3 696.4,769.7 698.1,767.3 695.5,766.2 698.1,765.1 696.4,762.8 699.3,763.1 698.9,760.2 701.3,761.9 702.4,759.3 703.5,761.9 705.9,760.2 705.5,763.1 708.4,762.8 706.7,765.1" fill="#8c8c8c" stroke="none" stroke-width="0"/>
<circle cx="702.4" cy="766.2" r="4.2" fill="#787878"/>
<polygon points="709.3,793.7 706.7,794.8 708.4,797.2 705.5,796.8 705.9,799.7 703.5,798.0 702.4,800.6 701.3,798.0 698.9,799.7 699.3,796.8 696.4,797.2 698.1,794.8 695.5,793.7 698.1,792.6 696.4,790.2 699.3,790.6 698.9,787.7 701.3,789.4 702.4,786.8 703.5,789.4 705.9,787.7 705.5,790.6 708.4,790.2 706.7,792.6" fill="#8c8c8c" stroke="none" stroke-width="0"/>
<circle cx="702.4" cy="793.7" r="4.2" fill="#787878"/>
<polygon points="709.3,821.2 706.7,822.3 708.4,824.7 705.5,824.3 705.9,827.2 703.5,825.5 702.4,828.1 701.3,825.5 698.9,827.2 699.3,824.3 696.4,824.7 698.1,822.3 695.5,821.2 698.1,820.1 696.4,817.8 699.3,818.1 698.9,815.2 701.3,816.9 702.4,814.3 703.5,816.9 705.9,815.2 705.5,818.1 708.4,817.8 706.7,820.1" fill="#8c8c8c" stroke="none" stroke-width="0"/>
<circle cx="702.4" cy="821.2" r="4.2" fill="#787878"/>
<polygon points="709.3,848.4 706.7,849.5 708.4,851.9 705.5,851.5 705.9,854.4 703.5,852.7 702.4,855.3 701.3,852.7 698.9,854.4 699.3,851.5 696.4,851.9 698.1,849.5 695.5,848.4 698.1,847.3 696.4,844.9 699.3,845.3 698.9,842.4 701.3,844.1 702.4,841.5 703.5,844.1 705.9,842.4 705.5,845.3 708.4,844.9 706.7,847.3" fill="#8c8c8c" stroke="none" stroke-width="0"/>
<circle cx="702.4" cy="848.4" r="4.2" fill="#787878"/>
<rect x="297.0" y="726.2" width="116.7" height="4.4" fill="#231f20"/>
<rect x="297.0" y="726.2" width="4.6" height="7.6" fill="#231f20"/>
<rect x="297.0" y="758.0" width="4.6" height="5.0" fill="#231f20"/>
<line x1="301.6" y1="733.9" x2="325.0" y2="733.9" stroke="#b4d9f2" stroke-width="1.0"/>
<path d="M325.0,733.9 A23.4,23.4 0 0 1 301.6,758.0" fill="none" stroke="#9aa4ad" stroke-width="0.5" />
<rect x="168.7" y="762.5" width="131.3" height="8.7" fill="#231f20"/>
<rect x="295.0" y="762.5" width="15.5" height="7.2" fill="#231f20"/>
<rect x="310.5" y="763.0" width="27.0" height="6.3" fill="#f1f8fd"/>
<rect x="310.5" y="765.3" width="27.0" height="2.3" fill="#9fcbea"/>
<line x1="310.5" y1="763.3" x2="337.5" y2="763.3" stroke="#3d454d" stroke-width="0.7"/>
<line x1="310.5" y1="769.0" x2="337.5" y2="769.0" stroke="#3d454d" stroke-width="0.7"/>
<rect x="337.5" y="762.5" width="64.2" height="7.2" fill="#231f20"/>
<rect x="401.7" y="763.0" width="27.5" height="6.3" fill="#f1f8fd"/>
<rect x="401.7" y="765.3" width="27.5" height="2.3" fill="#9fcbea"/>
<line x1="401.7" y1="763.3" x2="429.2" y2="763.3" stroke="#3d454d" stroke-width="0.7"/>
<line x1="401.7" y1="769.0" x2="429.2" y2="769.0" stroke="#3d454d" stroke-width="0.7"/>
<rect x="429.2" y="762.5" width="42.0" height="7.2" fill="#231f20"/>
<rect x="471.2" y="763.0" width="28.0" height="6.3" fill="#f1f8fd"/>
<rect x="471.2" y="765.3" width="28.0" height="2.3" fill="#9fcbea"/>
<line x1="471.2" y1="763.3" x2="499.2" y2="763.3" stroke="#3d454d" stroke-width="0.7"/>
<line x1="471.2" y1="769.0" x2="499.2" y2="769.0" stroke="#3d454d" stroke-width="0.7"/>
<rect x="499.2" y="762.5" width="70.3" height="7.4" fill="#231f20"/>
<rect x="168.7" y="762.5" width="8.3" height="35.0" fill="#231f20"/>
<rect x="137.0" y="791.2" width="9.2" height="6.4" fill="#231f20"/>
<rect x="137.0" y="791.2" width="6.7" height="7.5" fill="#231f20"/>
<rect x="146.2" y="791.6" width="22.5" height="5.7" fill="#f1f8fd"/>
<rect x="146.2" y="793.7" width="22.5" height="2.1" fill="#9fcbea"/>
<line x1="146.2" y1="791.9" x2="168.7" y2="791.9" stroke="#3d454d" stroke-width="0.7"/>
<line x1="146.2" y1="797.0" x2="168.7" y2="797.0" stroke="#3d454d" stroke-width="0.7"/>
<rect x="137.2" y="798.7" width="6.3" height="26.8" fill="#eaf4fb"/>
<rect x="138.3" y="798.7" width="3.0" height="26.8" fill="#a6cfec"/>
<line x1="137.5" y1="798.7" x2="137.5" y2="825.5" stroke="#3d454d" stroke-width="0.7"/>
<line x1="143.2" y1="798.7" x2="143.2" y2="825.5" stroke="#3d454d" stroke-width="0.7"/>
<rect x="137.0" y="825.5" width="6.7" height="7.5" fill="#231f20"/>
<rect x="137.2" y="833.0" width="6.3" height="27.0" fill="#eaf4fb"/>
<rect x="138.3" y="833.0" width="3.0" height="27.0" fill="#a6cfec"/>
<line x1="137.5" y1="833.0" x2="137.5" y2="860.0" stroke="#3d454d" stroke-width="0.7"/>
<line x1="143.2" y1="833.0" x2="143.2" y2="860.0" stroke="#3d454d" stroke-width="0.7"/>
<rect x="137.0" y="860.0" width="6.7" height="9.6" fill="#231f20"/>
<rect x="137.0" y="864.0" width="9.2" height="5.6" fill="#231f20"/>
<rect x="146.2" y="864.3" width="22.5" height="5.0" fill="#f1f8fd"/>
<rect x="146.2" y="866.1" width="22.5" height="1.8" fill="#9fcbea"/>
<line x1="146.2" y1="864.6" x2="168.7" y2="864.6" stroke="#3d454d" stroke-width="0.7"/>
<line x1="146.2" y1="869.0" x2="168.7" y2="869.0" stroke="#3d454d" stroke-width="0.7"/>
<rect x="168.7" y="864.0" width="8.3" height="41.5" fill="#231f20"/>
<rect x="168.7" y="931.7" width="8.3" height="40.8" fill="#231f20"/>
<rect x="213.2" y="771.0" width="46.0" height="13.3" fill="#231f20"/>
<rect x="295.0" y="762.5" width="11.2" height="135.8" fill="#231f20"/>
<rect x="177.0" y="893.3" width="86.2" height="5.0" fill="#231f20"/>
<rect x="287.0" y="893.3" width="93.0" height="5.0" fill="#231f20"/>
<rect x="403.2" y="893.3" width="16.3" height="5.0" fill="#231f20"/>
<line x1="286.5" y1="893.3" x2="286.5" y2="871.0" stroke="#b4d9f2" stroke-width="1.0"/>
<path d="M286.5,871.0 A22.3,22.3 0 0 0 263.2,893.3" fill="none" stroke="#9aa4ad" stroke-width="0.5" />
<line x1="402.8" y1="893.3" x2="402.8" y2="870.0" stroke="#b4d9f2" stroke-width="1.0"/>
<path d="M402.8,870.0 A23.3,23.3 0 0 0 380.0,893.3" fill="none" stroke="#9aa4ad" stroke-width="0.5" />
<rect x="168.7" y="962.3" width="187.5" height="10.2" fill="#231f20"/>
<rect x="356.2" y="968.0" width="110.8" height="4.5" fill="#231f20"/>
<rect x="461.2" y="958.0" width="146.8" height="14.5" fill="#231f20"/>
<rect x="68.7" y="905.0" width="5.0" height="60.0" fill="#231f20"/>
<rect x="68.7" y="905.0" width="38.3" height="5.0" fill="#231f20"/>
<rect x="102.0" y="900.0" width="5.0" height="10.0" fill="#231f20"/>
<rect x="68.7" y="960.0" width="101.3" height="5.0" fill="#231f20"/>
<rect x="125.0" y="900.0" width="5.0" height="43.0" fill="#231f20"/>
<rect x="123.5" y="900.0" width="6.5" height="5.0" fill="#231f20"/>
<rect x="125.0" y="938.7" width="11.7" height="4.3" fill="#231f20"/>
<rect x="160.7" y="938.7" width="9.3" height="4.3" fill="#231f20"/>
<line x1="107.0" y1="900.5" x2="115.5" y2="888.0" stroke="#b4d9f2" stroke-width="1.0"/>
<path d="M115.5,888.0 A15.1,15.1 0 0 1 124.5,900.5" fill="none" stroke="#9aa4ad" stroke-width="0.5" />
<line x1="138.0" y1="938.7" x2="138.0" y2="915.0" stroke="#b4d9f2" stroke-width="1.0"/>
<path d="M138.0,915.0 A23.7,23.7 0 0 1 160.7,938.7" fill="none" stroke="#9aa4ad" stroke-width="0.5" />
<line x1="177.0" y1="905.7" x2="202.7" y2="905.7" stroke="#b4d9f2" stroke-width="1.0"/>
<path d="M202.7,905.7 A25.7,25.7 0 0 1 177.0,931.7" fill="none" stroke="#9aa4ad" stroke-width="0.5" />
<rect x="200.5" y="933.0" width="111.2" height="4.4" fill="#231f20"/>
<rect x="333.7" y="933.0" width="52.0" height="4.4" fill="#231f20"/>
<rect x="252.2" y="937.0" width="4.6" height="25.5" fill="#231f20"/>
<line x1="217.4" y1="937.4" x2="217.4" y2="962.3" stroke="#888" stroke-width="0.5"/>
<line x1="226.1" y1="937.4" x2="226.1" y2="962.3" stroke="#888" stroke-width="0.5"/>
<line x1="234.7" y1="937.4" x2="234.7" y2="962.3" stroke="#888" stroke-width="0.5"/>
<path d="M246.2,937.4 L242.8,947 L239.5,948.6 L240.8,950 L237.6,951.3 L234.2,962.3" fill="none" stroke="#333" stroke-width="0.6" />
<line x1="204.6" y1="950.8" x2="229.6" y2="950.8" stroke="#666" stroke-width="0.5"/>
<text x="209.3" y="948.9" font-size="7.50" font-weight="normal" font-style="italic" text-anchor="middle" fill="#231f20">UP</text>
<line x1="333.2" y1="933.0" x2="333.2" y2="910.0" stroke="#b4d9f2" stroke-width="1.0"/>
<path d="M333.2,910.0 A23.0,23.0 0 0 0 311.7,933.0" fill="none" stroke="#9aa4ad" stroke-width="0.5" />
<rect x="351.3" y="898.0" width="4.5" height="5.8" fill="#231f20"/>
<rect x="351.3" y="927.6" width="4.5" height="40.4" fill="#231f20"/>
<line x1="356.2" y1="925.8" x2="379.3" y2="925.8" stroke="#b4d9f2" stroke-width="1.0"/>
<path d="M379.3,925.8 A23.1,23.1 0 0 0 356.2,903.8" fill="none" stroke="#9aa4ad" stroke-width="0.5" />
<rect x="406.7" y="933.0" width="6.5" height="4.4" fill="#231f20"/>
<rect x="408.6" y="937.0" width="2.8" height="31.0" fill="#231f20"/>
<line x1="406.3" y1="933.0" x2="406.3" y2="912.3" stroke="#b4d9f2" stroke-width="1.0"/>
<path d="M406.3,912.3 A20.7,20.7 0 0 0 385.7,933.0" fill="none" stroke="#9aa4ad" stroke-width="0.5" />
<circle cx="341.7" cy="949.2" r="8.3" fill="#fff" stroke="#555" stroke-width="0.6"/>
<text x="341.8" y="952.1" font-size="7.40" font-weight="bold" text-anchor="middle" textLength="14.7" lengthAdjust="spacingAndGlyphs" fill="#231f20">W/H</text>
<rect x="363.4" y="959.7" width="16.6" height="7.9" fill="none" stroke="#555" stroke-width="0.6" rx="0"/>
<text x="371.8" y="966.7" font-size="7.80" font-weight="bold" text-anchor="middle" textLength="15.2" lengthAdjust="spacingAndGlyphs" fill="#231f20">W/H</text>
<line x1="356.2" y1="959.5" x2="363.7" y2="959.5" stroke="#aaa" stroke-width="0.6" stroke-dasharray="3 2"/>
<line x1="380.0" y1="959.5" x2="418.0" y2="959.5" stroke="#aaa" stroke-width="0.6" stroke-dasharray="3 2"/>
<text x="383.1" y="950.2" font-size="8.40" font-weight="bold" text-anchor="middle" fill="#231f20">CL</text>
<rect x="409.3" y="820.0" width="10.2" height="78.3" fill="#231f20"/>
<rect x="402.5" y="893.8" width="17.0" height="4.5" fill="#231f20"/>
<rect x="409.3" y="820.0" width="57.2" height="4.3" fill="#231f20"/>
<rect x="431.7" y="769.5" width="5.0" height="6.3" fill="#231f20"/>
<rect x="431.7" y="813.0" width="5.0" height="7.5" fill="#231f20"/>
<polyline points="434.0,775.8 420.7,787.5 430.7,793.7 420.7,799.4 434.0,813.0" fill="none" stroke="#b4d9f2" stroke-width="0.9"/>
<line x1="448.0" y1="770.0" x2="448.0" y2="820.0" stroke="#bbb" stroke-width="0.6" stroke-dasharray="3 2"/>
<rect x="461.2" y="769.5" width="5.8" height="134.3" fill="#231f20"/>
<rect x="460.0" y="893.8" width="7.0" height="3.8" fill="#231f20"/>
<rect x="461.2" y="928.7" width="5.8" height="43.8" fill="#231f20"/>
<text x="441.3" y="797.4" font-size="8.00" font-weight="bold" text-anchor="middle" fill="#231f20">CL</text>
<rect x="420.0" y="824.6" width="41.0" height="24.1" fill="none" stroke="#777" stroke-width="0.6" rx="0"/>
<rect x="421.6" y="826.5" width="37.9" height="20.5" fill="none" stroke="#888" stroke-width="0.6" rx="1.5"/>
<path d="M425.3,834 L423.3,835.2 L425.3,836.4 Z" fill="none" stroke="#444" stroke-width="0.5" />
<path d="M419.7,854 A10,8.7 0 0 1 419.7,871.2" fill="none" stroke="#666" stroke-width="0.7" />
<path d="M419.7,856.5 A7.5,6.2 0 0 1 419.7,868.9" fill="none" stroke="#888" stroke-width="0.5" />
<rect x="419.7" y="875.7" width="4.0" height="14.3" fill="none" stroke="#777" stroke-width="0.6" rx="0"/>
<path d="M423.7,876.5 L432.5,876.5 A7.5,6.3 0 0 1 432.5,889.2 L423.7,889.2" fill="none" stroke="#777" stroke-width="0.6" />
<line x1="459.3" y1="893.8" x2="459.3" y2="872.5" stroke="#b4d9f2" stroke-width="1.0"/>
<path d="M459.3,872.5 A21.3,21.3 0 0 0 441.0,893.8" fill="none" stroke="#9aa4ad" stroke-width="0.5" />
<line x1="445.7" y1="882.5" x2="445.7" y2="901.0" stroke="#888" stroke-width="0.6"/>
<rect x="406.7" y="932.5" width="5.9" height="5.0" fill="#231f20"/>
<rect x="460.0" y="932.5" width="7.0" height="5.0" fill="#231f20"/>
<polyline points="414.5,933.0 418.7,920.0 423.0,933.0" fill="none" stroke="#b4d9f2" stroke-width="0.9"/>
<polyline points="449.5,933.0 453.7,920.0 458.0,933.0" fill="none" stroke="#b4d9f2" stroke-width="0.9"/>
<line x1="402.7" y1="910.0" x2="402.7" y2="933.0" stroke="#b4d9f2" stroke-width="0.8"/>
<rect x="418.0" y="950.5" width="37.5" height="17.3" fill="none" stroke="#888" stroke-width="0.6" rx="0"/>
<line x1="436.7" y1="950.5" x2="436.7" y2="967.8" stroke="#888" stroke-width="0.6"/>
<line x1="418.0" y1="959.6" x2="422.0" y2="959.6" stroke="#aaa" stroke-width="0.6"/>
<line x1="432.5" y1="959.6" x2="441.5" y2="959.6" stroke="#aaa" stroke-width="0.6" stroke-dasharray="3 2"/>
<line x1="451.0" y1="959.6" x2="455.5" y2="959.6" stroke="#aaa" stroke-width="0.6"/>
<text x="427.3" y="962.5" font-size="8.40" font-weight="bold" text-anchor="middle" fill="#231f20">W</text>
<text x="446.2" y="962.5" font-size="8.40" font-weight="bold" text-anchor="middle" fill="#231f20">D</text>
<line x1="455.5" y1="959.5" x2="461.2" y2="959.5" stroke="#aaa" stroke-width="0.6" stroke-dasharray="3 2"/>
<rect x="561.8" y="769.5" width="7.9" height="103.5" fill="#231f20"/>
<rect x="562.2" y="777.0" width="7.1" height="28.0" fill="#eaf4fb"/>
<rect x="563.5" y="777.0" width="3.4" height="28.0" fill="#a6cfec"/>
<line x1="562.5" y1="777.0" x2="562.5" y2="805.0" stroke="#3d454d" stroke-width="0.7"/>
<line x1="569.0" y1="777.0" x2="569.0" y2="805.0" stroke="#3d454d" stroke-width="0.7"/>
<rect x="467.0" y="867.0" width="7.2" height="4.8" fill="#231f20"/>
<rect x="497.5" y="867.0" width="76.2" height="4.8" fill="#231f20"/>
<rect x="561.8" y="865.0" width="11.9" height="8.0" fill="#231f20"/>
<rect x="573.7" y="865.5" width="23.8" height="7.0" fill="#f1f8fd"/>
<rect x="573.7" y="868.0" width="23.8" height="2.5" fill="#9fcbea"/>
<line x1="573.7" y1="865.8" x2="597.5" y2="865.8" stroke="#3d454d" stroke-width="0.7"/>
<line x1="573.7" y1="872.2" x2="597.5" y2="872.2" stroke="#3d454d" stroke-width="0.7"/>
<rect x="597.5" y="865.0" width="10.5" height="8.0" fill="#231f20"/>
<line x1="475.0" y1="867.0" x2="475.0" y2="843.7" stroke="#b4d9f2" stroke-width="1.0"/>
<path d="M475.0,843.7 A23.3,23.3 0 0 1 497.5,867.0" fill="none" stroke="#9aa4ad" stroke-width="0.5" />
<rect x="601.2" y="865.0" width="6.8" height="16.3" fill="#231f20"/>
<rect x="601.2" y="925.5" width="6.8" height="47.0" fill="#231f20"/>
<line x1="608.0" y1="881.3" x2="628.7" y2="881.3" stroke="#b4d9f2" stroke-width="1.0"/>
<path d="M628.7,881.3 A20.7,20.7 0 0 1 608.3,903.3" fill="none" stroke="#9aa4ad" stroke-width="0.5" />
<line x1="608.0" y1="925.5" x2="628.7" y2="925.5" stroke="#b4d9f2" stroke-width="1.0"/>
<path d="M628.7,925.5 A20.7,20.7 0 0 0 608.3,903.3" fill="none" stroke="#9aa4ad" stroke-width="0.5" />
<line x1="467.0" y1="938.7" x2="601.2" y2="938.7" stroke="#999" stroke-width="0.6"/>
<line x1="493.7" y1="938.7" x2="493.7" y2="958.0" stroke="#999" stroke-width="0.6"/>
<text x="479.3" y="950.8" font-size="7.30" font-weight="bold" text-anchor="middle" fill="#231f20">RFG</text>
<line x1="493.7" y1="948.3" x2="585.0" y2="948.3" stroke="#aaa" stroke-width="0.6" stroke-dasharray="4 3"/>
<rect x="522.5" y="937.6" width="21.2" height="20.0" fill="#fff" stroke="#666" stroke-width="0.6" rx="0"/>
<rect x="524.4" y="939.5" width="17.4" height="16.5" fill="none" stroke="#999" stroke-width="0.5" rx="0"/>
<circle cx="528.3" cy="943.5" r="2.1" fill="none" stroke="#444" stroke-width="0.6"/><circle cx="528.3" cy="943.5" r="0.9" fill="#444"/>
<circle cx="538" cy="943.5" r="2.1" fill="none" stroke="#444" stroke-width="0.6"/><circle cx="538" cy="943.5" r="0.9" fill="#444"/>
<circle cx="528.3" cy="952.3" r="2.1" fill="none" stroke="#444" stroke-width="0.6"/><circle cx="528.3" cy="952.3" r="0.9" fill="#444"/>
<circle cx="538" cy="952.3" r="2.1" fill="none" stroke="#444" stroke-width="0.6"/><circle cx="538" cy="952.3" r="0.9" fill="#444"/>
<text x="532.6" y="933.2" font-size="6.60" font-weight="bold" text-anchor="middle" fill="#231f20">MW</text>
<line x1="532.6" y1="934.3" x2="532.6" y2="941.0" stroke="#555" stroke-width="0.5"/>
<rect x="563.7" y="941.2" width="19.5" height="15.4" fill="#fff" stroke="#777" stroke-width="0.6" rx="0"/>
<rect x="565.6" y="943.2" width="15.8" height="11.6" fill="none" stroke="#777" stroke-width="0.6" rx="0"/>
<line x1="571.3" y1="952.5" x2="573.5" y2="955.3" stroke="#444" stroke-width="0.6"/>
<line x1="573.5" y1="952.0" x2="571.3" y2="955.0" stroke="#444" stroke-width="0.6"/>
<text x="593.2" y="947.6" font-size="7.30" font-weight="bold" text-anchor="middle" fill="#231f20">DW</text>
<text x="422.0" y="742.7" font-size="10.75" font-weight="bold" textLength="33.0" lengthAdjust="spacingAndGlyphs" fill="#231f20">ALLEY</text>
<text x="410.0" y="756.2" font-size="9.78" font-weight="normal" textLength="57.5" lengthAdjust="spacingAndGlyphs" fill="#231f20">29'-9" X 3'-6"</text>
<text x="188.2" y="831.2" font-size="11.45" font-weight="bold" textLength="75.5" lengthAdjust="spacingAndGlyphs" fill="#231f20">LIVING ROOM</text>
<text x="192.5" y="844.5" font-size="9.78" font-weight="normal" textLength="68.7" lengthAdjust="spacingAndGlyphs" fill="#231f20">16'-11" X 13'-9"</text>
<text x="327.0" y="831.4" font-size="11.45" font-weight="bold" textLength="56.2" lengthAdjust="spacingAndGlyphs" fill="#231f20">BEDROOM</text>
<text x="321.2" y="845.0" font-size="10.20" font-weight="normal" textLength="68.8" lengthAdjust="spacingAndGlyphs" fill="#231f20">14'-2" X 13'-10"</text>
<text x="485.0" y="814.6" font-size="11.03" font-weight="bold" textLength="57.5" lengthAdjust="spacingAndGlyphs" fill="#231f20">BEDROOM</text>
<text x="480.0" y="828.0" font-size="9.50" font-weight="normal" textLength="69.2" lengthAdjust="spacingAndGlyphs" fill="#231f20">10'-7" X 10'-10"</text>
<text x="619.5" y="832.6" font-size="11.31" font-weight="bold" textLength="29.2" lengthAdjust="spacingAndGlyphs" fill="#231f20">DECK</text>
<text x="603.0" y="846.2" font-size="9.78" font-weight="normal" textLength="64.0" lengthAdjust="spacingAndGlyphs" fill="#231f20">15'-5" X 26'-3"</text>
<text x="78.2" y="926.8" font-size="9.50" font-weight="bold" textLength="43.8" lengthAdjust="spacingAndGlyphs" fill="#231f20">STORAGE</text>
<text x="86.2" y="939.3" font-size="9.50" font-weight="bold" textLength="28.0" lengthAdjust="spacingAndGlyphs" fill="#231f20">ROOM</text>
<text x="76.2" y="950.8" font-size="7.12" font-weight="normal" textLength="48.8" lengthAdjust="spacingAndGlyphs" fill="#231f20">10'-8" X 5'-8"</text>
<text x="233.7" y="912.5" font-size="11.59" font-weight="bold" textLength="50.8" lengthAdjust="spacingAndGlyphs" fill="#231f20">HALLWAY</text>
<text x="229.0" y="925.7" font-size="9.78" font-weight="normal" textLength="62.0" lengthAdjust="spacingAndGlyphs" fill="#231f20">19'-6" X 3'-10"</text>
<text x="270.7" y="947.2" font-size="10.75" font-weight="bold" textLength="48.0" lengthAdjust="spacingAndGlyphs" fill="#231f20">STORAGE</text>
<text x="265.7" y="960.2" font-size="9.08" font-weight="normal" textLength="60.0" lengthAdjust="spacingAndGlyphs" fill="#231f20">10'-6" X 2'-10"</text>
<text x="426.2" y="908.8" font-size="8.10" font-weight="bold" textLength="22.5" lengthAdjust="spacingAndGlyphs" fill="#231f20">BATH</text>
<text x="413.0" y="919.2" font-size="7.40" font-weight="normal" textLength="48.7" lengthAdjust="spacingAndGlyphs" fill="#231f20">4'-10" X 7'-10"</text>
<text x="418.0" y="940.2" font-size="8.10" font-weight="bold" textLength="35.7" lengthAdjust="spacingAndGlyphs" fill="#231f20">LAUNDRY</text>
<text x="418.7" y="948.8" font-size="6.01" font-weight="normal" textLength="35.8" lengthAdjust="spacingAndGlyphs" fill="#231f20">5'-8" X 3'-6"</text>
<text x="518.7" y="893.3" font-size="11.59" font-weight="bold" textLength="35.5" lengthAdjust="spacingAndGlyphs" fill="#231f20">EAT-IN</text>
<text x="513.0" y="908.0" font-size="11.87" font-weight="bold" textLength="47.0" lengthAdjust="spacingAndGlyphs" fill="#231f20">KITCHEN</text>
<text x="508.7" y="921.7" font-size="10.06" font-weight="normal" textLength="57.5" lengthAdjust="spacingAndGlyphs" fill="#231f20">15'-1" X 9'-8"</text>
<text x="344.5" y="993.0" font-size="12.57" font-weight="bold" textLength="91.7" lengthAdjust="spacingAndGlyphs" fill="#231f20">LOWER FLOOR</text>
<polygon points="723.7,1006.2 755.2,1013.3 743.3,1019.5" fill="#111" stroke="none" stroke-width="0"/>
<path d="M723.7,1006.2 L743.3,1019.5 L740.7,1033.2 Z" fill="none" stroke="#111" stroke-width="1.3" stroke-linejoin="miter"/>
<path d="M715.5,996.3 L723.2,1001.3 L712.8,1001.8 L719.9,1007.1" fill="none" stroke="#111" stroke-width="1.3" stroke-linejoin="bevel"/>
<text x="42.5" y="1060.9" font-size="8.52" font-weight="normal" textLength="117.5" lengthAdjust="spacingAndGlyphs" fill="#555">CREATED ON APRIL 18, 2026</text>
<text x="42.5" y="1074.7" font-size="8.80" font-weight="normal" textLength="698.5" lengthAdjust="spacingAndGlyphs" fill="#1c1c1c" stroke="#1c1c1c" stroke-width="0.25">DISCLAIMER: RENDERING BY OPEN HOMES PHOTOGRAPHY. ALL MEASUREMENTS ARE APPROXIMATE AND MAY NOT BE EXACT. DO NOT RELY ON THE ACCURACY OF THIS FLOOR PLAN</text>
<text x="42.5" y="1088.5" font-size="8.80" font-weight="normal" textLength="616.5" lengthAdjust="spacingAndGlyphs" fill="#1c1c1c" stroke="#1c1c1c" stroke-width="0.25">WHEN DETERMINING THE PRICE OF A PROPERTY OR MAKING DECISIONS REGARDING BUYING OR SELLING OF PROPERTIES WITHOUT INDEPENDENT VERIFICATION.</text>
</svg>
</body></html>
